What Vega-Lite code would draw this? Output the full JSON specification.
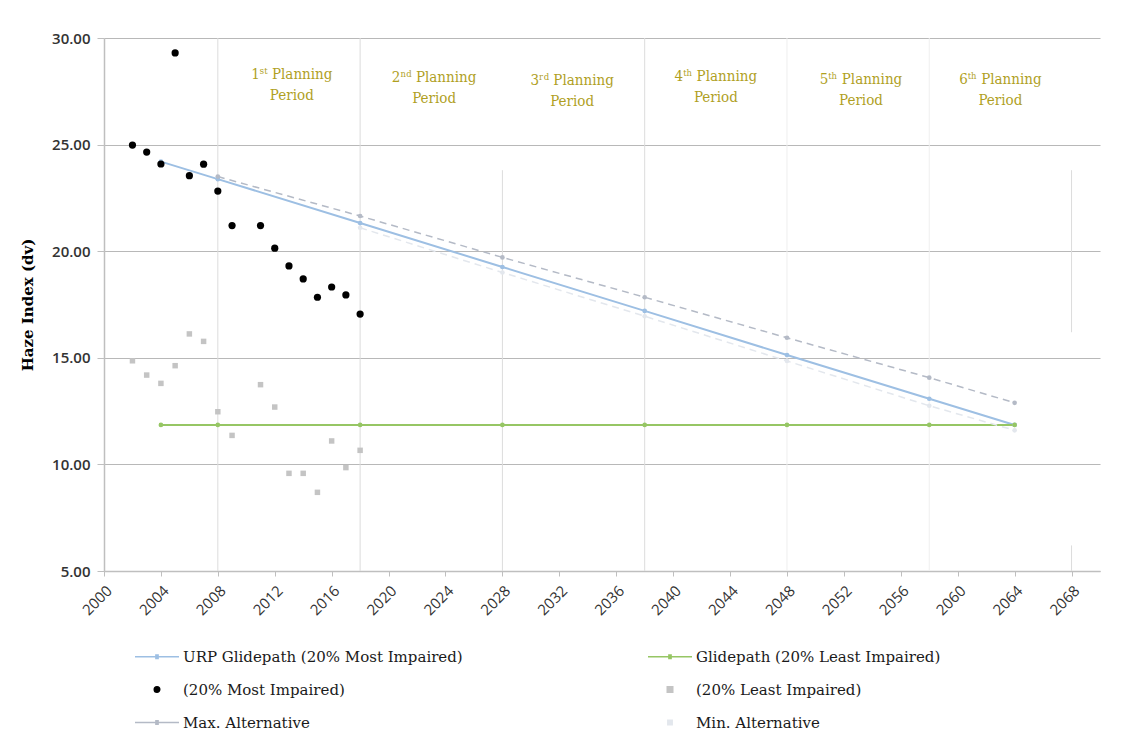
{
  "$schema": "https://vega.github.io/schema/vega-lite/v6.json",
  "width": 996,
  "height": 533,
  "autosize": {"type": "none"},
  "padding": {"left": 104, "top": 38, "right": 35, "bottom": 169},
  "background": "white",
  "config": {"view": {"stroke": null}},
  "datasets": {
    "vlines": [
      {"year": 2008, "lo": 5, "hi": 30, "shade": "a"},
      {"year": 2018, "lo": 5, "hi": 30, "shade": "a"},
      {"year": 2028, "lo": 5, "hi": 23.8, "shade": "a"},
      {"year": 2038, "lo": 5, "hi": 30, "shade": "a"},
      {"year": 2048, "lo": 5, "hi": 30, "shade": "b"},
      {"year": 2058, "lo": 5, "hi": 30, "shade": "b"},
      {"year": 2068, "lo": 16.2, "hi": 23.8, "shade": "a"},
      {"year": 2068, "lo": 5, "hi": 6.2, "shade": "a"}
    ],
    "lines": [
      {"series": "URP Glidepath (20% Most Impaired)", "year": 2004, "value": 24.2},
      {"series": "URP Glidepath (20% Most Impaired)", "year": 2008, "value": 23.38},
      {"series": "URP Glidepath (20% Most Impaired)", "year": 2018, "value": 21.32},
      {"series": "URP Glidepath (20% Most Impaired)", "year": 2028, "value": 19.26},
      {"series": "URP Glidepath (20% Most Impaired)", "year": 2038, "value": 17.2},
      {"series": "URP Glidepath (20% Most Impaired)", "year": 2048, "value": 15.13},
      {"series": "URP Glidepath (20% Most Impaired)", "year": 2058, "value": 13.08},
      {"series": "URP Glidepath (20% Most Impaired)", "year": 2064, "value": 11.85},
      {"series": "Glidepath (20% Least Impaired)", "year": 2004, "value": 11.85},
      {"series": "Glidepath (20% Least Impaired)", "year": 2008, "value": 11.85},
      {"series": "Glidepath (20% Least Impaired)", "year": 2018, "value": 11.85},
      {"series": "Glidepath (20% Least Impaired)", "year": 2028, "value": 11.85},
      {"series": "Glidepath (20% Least Impaired)", "year": 2038, "value": 11.85},
      {"series": "Glidepath (20% Least Impaired)", "year": 2048, "value": 11.85},
      {"series": "Glidepath (20% Least Impaired)", "year": 2058, "value": 11.85},
      {"series": "Glidepath (20% Least Impaired)", "year": 2064, "value": 11.85},
      {"series": "Max. Alternative", "year": 2008, "value": 23.5},
      {"series": "Max. Alternative", "year": 2018, "value": 21.65},
      {"series": "Max. Alternative", "year": 2028, "value": 19.71},
      {"series": "Max. Alternative", "year": 2038, "value": 17.84},
      {"series": "Max. Alternative", "year": 2048, "value": 15.94},
      {"series": "Max. Alternative", "year": 2058, "value": 14.07},
      {"series": "Max. Alternative", "year": 2064, "value": 12.89},
      {"series": "Min. Alternative", "year": 2018, "value": 21.1},
      {"series": "Min. Alternative", "year": 2028, "value": 19.0},
      {"series": "Min. Alternative", "year": 2038, "value": 16.95},
      {"series": "Min. Alternative", "year": 2048, "value": 14.85},
      {"series": "Min. Alternative", "year": 2058, "value": 12.75},
      {"series": "Min. Alternative", "year": 2064, "value": 11.6}
    ],
    "obs": [
      {"series": "(20% Most Impaired)", "year": 2002, "value": 24.98},
      {"series": "(20% Most Impaired)", "year": 2003, "value": 24.65},
      {"series": "(20% Most Impaired)", "year": 2004, "value": 24.09},
      {"series": "(20% Most Impaired)", "year": 2005, "value": 29.3},
      {"series": "(20% Most Impaired)", "year": 2006, "value": 23.54},
      {"series": "(20% Most Impaired)", "year": 2007, "value": 24.08},
      {"series": "(20% Most Impaired)", "year": 2008, "value": 22.82},
      {"series": "(20% Most Impaired)", "year": 2009, "value": 21.2},
      {"series": "(20% Most Impaired)", "year": 2011, "value": 21.2},
      {"series": "(20% Most Impaired)", "year": 2012, "value": 20.14},
      {"series": "(20% Most Impaired)", "year": 2013, "value": 19.31},
      {"series": "(20% Most Impaired)", "year": 2014, "value": 18.7},
      {"series": "(20% Most Impaired)", "year": 2015, "value": 17.84},
      {"series": "(20% Most Impaired)", "year": 2016, "value": 18.32},
      {"series": "(20% Most Impaired)", "year": 2017, "value": 17.95},
      {"series": "(20% Most Impaired)", "year": 2018, "value": 17.05},
      {"series": "(20% Least Impaired)", "year": 2002, "value": 14.86},
      {"series": "(20% Least Impaired)", "year": 2003, "value": 14.19},
      {"series": "(20% Least Impaired)", "year": 2004, "value": 13.8},
      {"series": "(20% Least Impaired)", "year": 2005, "value": 14.63},
      {"series": "(20% Least Impaired)", "year": 2006, "value": 16.12},
      {"series": "(20% Least Impaired)", "year": 2007, "value": 15.77},
      {"series": "(20% Least Impaired)", "year": 2008, "value": 12.47},
      {"series": "(20% Least Impaired)", "year": 2009, "value": 11.36},
      {"series": "(20% Least Impaired)", "year": 2011, "value": 13.74},
      {"series": "(20% Least Impaired)", "year": 2012, "value": 12.69},
      {"series": "(20% Least Impaired)", "year": 2013, "value": 9.58},
      {"series": "(20% Least Impaired)", "year": 2014, "value": 9.58},
      {"series": "(20% Least Impaired)", "year": 2015, "value": 8.69},
      {"series": "(20% Least Impaired)", "year": 2016, "value": 11.1},
      {"series": "(20% Least Impaired)", "year": 2017, "value": 9.85},
      {"series": "(20% Least Impaired)", "year": 2018, "value": 10.66}
    ],
    "periods": [
      {"label": "1ˢᵗ Planning\nPeriod", "year": 2013.2, "value": 28.62},
      {"label": "2ⁿᵈ Planning\nPeriod", "year": 2023.2, "value": 28.52},
      {"label": "3ʳᵈ Planning\nPeriod", "year": 2032.9, "value": 28.38},
      {"label": "4ᵗʰ Planning\nPeriod", "year": 2043.0, "value": 28.56},
      {"label": "5ᵗʰ Planning\nPeriod", "year": 2053.2, "value": 28.42},
      {"label": "6ᵗʰ Planning\nPeriod", "year": 2063.0, "value": 28.42}
    ]
  },
  "layer": [
    {
      "data": {"name": "vlines"},
      "mark": {"type": "rule", "strokeWidth": 1},
      "encoding": {
        "x": {"field": "year", "type": "quantitative"},
        "y": {"field": "lo", "type": "quantitative"},
        "y2": {"field": "hi"},
        "stroke": {"field": "shade", "type": "nominal", "scale": {"domain": ["a", "b"], "range": ["#dcdcdc", "#efefef"]}, "legend": null}
      }
    },
    {
      "data": {"name": "lines"},
      "transform": [{"filter": "datum.series == 'URP Glidepath (20% Most Impaired)' || datum.series == 'Glidepath (20% Least Impaired)'"}],
      "mark": {"type": "line", "strokeWidth": 2},
      "encoding": {
        "x": {"field": "year", "type": "quantitative"},
        "y": {"field": "value", "type": "quantitative"},
        "color": {"field": "series", "type": "nominal"}
      }
    },
    {
      "data": {"name": "lines"},
      "transform": [{"filter": "datum.series == 'Max. Alternative' || datum.series == 'Min. Alternative'"}],
      "mark": {"type": "line", "strokeWidth": 1.5, "strokeDash": [7, 5]},
      "encoding": {
        "x": {"field": "year", "type": "quantitative"},
        "y": {"field": "value", "type": "quantitative"},
        "color": {"field": "series", "type": "nominal"}
      }
    },
    {
      "data": {"name": "lines"},
      "mark": {"type": "circle", "size": 22, "opacity": 1},
      "encoding": {
        "x": {"field": "year", "type": "quantitative"},
        "y": {"field": "value", "type": "quantitative"},
        "color": {"field": "series", "type": "nominal"}
      }
    },
    {
      "data": {"name": "obs"},
      "transform": [{"filter": "datum.series == '(20% Most Impaired)'"}],
      "mark": {"type": "circle", "size": 52, "opacity": 1},
      "encoding": {
        "x": {"field": "year", "type": "quantitative"},
        "y": {"field": "value", "type": "quantitative"},
        "color": {"field": "series", "type": "nominal"}
      }
    },
    {
      "data": {"name": "obs"},
      "transform": [{"filter": "datum.series == '(20% Least Impaired)'"}],
      "mark": {"type": "square", "size": 30, "opacity": 1},
      "encoding": {
        "x": {"field": "year", "type": "quantitative"},
        "y": {"field": "value", "type": "quantitative"},
        "color": {"field": "series", "type": "nominal"}
      }
    },
    {
      "data": {"name": "obs"},
      "transform": [{"filter": "false"}],
      "mark": {"type": "point", "filled": true},
      "encoding": {
        "x": {"field": "year", "type": "quantitative"},
        "y": {"field": "value", "type": "quantitative"},
        "color": {
          "field": "series", "type": "nominal", "title": null,
          "scale": {
            "domain": ["URP Glidepath (20% Most Impaired)", "Glidepath (20% Least Impaired)", "(20% Most Impaired)", "(20% Least Impaired)", "Max. Alternative", "Min. Alternative"],
            "range": ["#9dbfe3", "#96c664", "#000000", "#c4c4c4", "#b4bac6", "#e3e7ed"]
          },
          "legend": {
            "orient": "none", "legendX": 62, "legendY": 611, "columns": 2, "direction": "horizontal",
            "columnPadding": 182, "rowPadding": 17, "labelOffset": 2, "symbolSize": 121, "symbolStrokeWidth": 1.5,
            "labelFont": "DejaVu Serif", "labelFontSize": 15, "labelColor": "#1a1a1a", "labelLimit": 400,
            "symbolOpacity": 1,
            "encode": {"symbols": {"update": {
              "fill": {"scale": "color", "field": "value"},
              "stroke": {"scale": "color", "field": "value"},
              "strokeWidth": {"value": 1.5},
              "opacity": {"value": 1}
            }}}
          }
        },
        "shape": {
          "field": "series", "type": "nominal", "title": null,
          "scale": {
            "domain": ["URP Glidepath (20% Most Impaired)", "Glidepath (20% Least Impaired)", "(20% Most Impaired)", "(20% Least Impaired)", "Max. Alternative", "Min. Alternative"],
            "range": [
              "M-7,0H1M-3.2,-0.3H-2.8V0.3H-3.2Z",
              "M-7,0H1M-3.2,-0.3H-2.8V0.3H-3.2Z",
              "M-3.5,0A0.5,0.5 0 1,0 -2.5,0A0.5,0.5 0 1,0 -3.5,0Z",
              "M-3.5,-0.5H-2.5V0.5H-3.5Z",
              "M-7,0H1M-3.2,-0.3H-2.8V0.3H-3.2Z",
              "M-3.4,-0.4H-2.6V0.4H-3.4Z"
            ]
          }
        }
      }
    },
    {
      "data": {"name": "periods"},
      "mark": {"type": "text", "align": "center", "baseline": "top", "lineBreak": "\n", "lineHeight": 21, "font": "DejaVu Serif Condensed", "fontSize": 15, "color": "#b09f1f"},
      "encoding": {
        "x": {"field": "year", "type": "quantitative"},
        "y": {"field": "value", "type": "quantitative"},
        "text": {"field": "label"}
      }
    }
  ],
  "encoding": {
    "x": {
      "type": "quantitative",
      "scale": {"domain": [2000, 2070], "nice": false, "zero": false},
      "axis": {
        "title": null, "values": [2000, 2004, 2008, 2012, 2016, 2020, 2024, 2028, 2032, 2036, 2040, 2044, 2048, 2052, 2056, 2060, 2064, 2068],
        "format": "d", "labelAngle": -45, "labelFont": "Open Sans", "labelFontSize": 15, "labelColor": "#333333",
        "grid": false, "tickSize": 5, "tickColor": "#bfbfbf", "domainColor": "#bfbfbf", "domainWidth": 1.5, "labelPadding": 7
      }
    },
    "y": {
      "type": "quantitative",
      "scale": {"domain": [5, 30], "nice": false, "zero": false},
      "axis": {
        "title": "Haze Index (dv)", "titleFont": "DejaVu Serif", "titleFontSize": 15, "titleFontWeight": "bold", "titleColor": "#000000", "titlePadding": 16,
        "values": [5, 10, 15, 20, 25, 30], "format": ".2f", "labelFont": "Open Sans", "labelFontWeight": 600, "labelFontSize": 15, "labelColor": "#333333",
        "grid": true, "gridColor": "#b8b8b8", "gridWidth": 1.2, "tickSize": 7, "tickColor": "#bfbfbf", "domainColor": "#bfbfbf", "domainWidth": 1.5, "labelPadding": 7
      }
    }
  }
}
